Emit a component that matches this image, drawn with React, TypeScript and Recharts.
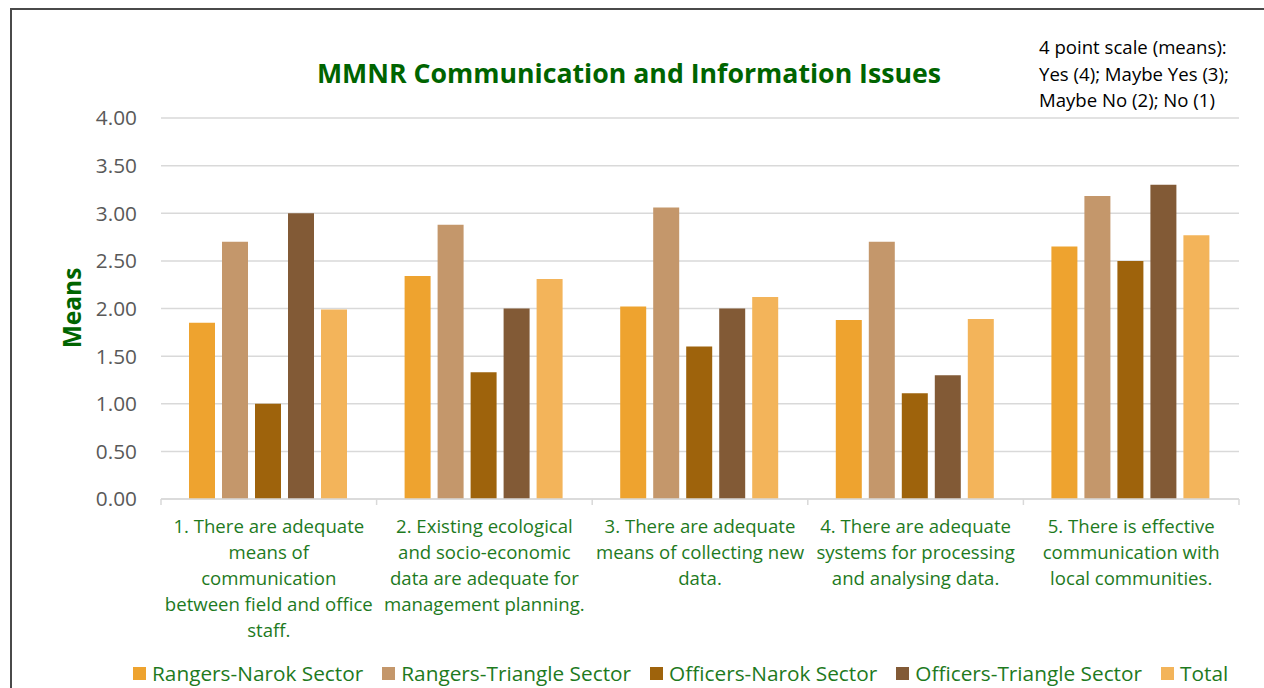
import { BarChart, Bar, XAxis, YAxis, CartesianGrid, Legend } from "recharts";

const categories = [
  "1. There are adequate\nmeans of\ncommunication\nbetween field and office\nstaff.",
  "2.  Existing ecological\nand socio-economic\ndata are adequate for\nmanagement planning.",
  "3. There are adequate\nmeans of collecting new\ndata.",
  "4.  There are adequate\nsystems for processing\nand analysing data.",
  "5. There is effective\ncommunication with\nlocal communities.",
];

const rangersNarok = [1.85, 2.34, 2.02, 1.88, 2.65];
const rangersTriangle = [2.7, 2.88, 3.06, 2.7, 3.18];
const officersNarok = [1.0, 1.33, 1.6, 1.11, 2.5];
const officersTriangle = [3.0, 2.0, 2.0, 1.3, 3.3];
const total = [1.99, 2.31, 2.12, 1.89, 2.77];

const yTicks = [0, 0.5, 1, 1.5, 2, 2.5, 3, 3.5, 4];

const series = [
  { key: "rn", name: "Rangers-Narok Sector", color: "#EEA32F", values: rangersNarok },
  { key: "rt", name: "Rangers-Triangle Sector", color: "#C4976B", values: rangersTriangle },
  { key: "on", name: "Officers-Narok Sector", color: "#9E630C", values: officersNarok },
  { key: "ot", name: "Officers-Triangle Sector", color: "#825A36", values: officersTriangle },
  { key: "tot", name: "Total", color: "#F3B45A", values: total },
];

const data = categories.map((name, i) => {
  const row: Record<string, string | number> = { name };
  series.forEach((s) => (row[s.key] = s.values[i]));
  return row;
});

const FONT = "'Open Sans', sans-serif";
const GREEN = "#1E7A1E";

function CategoryTick(props: any) {
  const { x, y, payload } = props;
  const half = payload.offset || 107.8;
  const lines = String(payload.value).split("\n");
  return (
    <g>
      <line x1={x - half} x2={x - half} y1={y - 24} y2={y - 18} stroke="#D9D9D9" strokeWidth={1.5} />
      {payload.index === categories.length - 1 && (
        <line x1={x + half} x2={x + half} y1={y - 24} y2={y - 18} stroke="#D9D9D9" strokeWidth={1.5} />
      )}
      <text x={x} y={y} textAnchor="middle" fill={GREEN} fontSize={18.6} fontFamily={FONT}>
        {lines.map((l, i) => (
          <tspan key={i} x={x} dy={i === 0 ? 10 : 26}>
            {l}
          </tspan>
        ))}
      </text>
    </g>
  );
}

function LegendContent() {
  return (
    <div
      style={{
        display: "flex",
        alignItems: "center",
        whiteSpace: "nowrap",
        fontFamily: FONT,
        fontSize: 20.8,
        color: GREEN,
      }}
    >
      {series.map((s) => (
        <div key={s.key} style={{ display: "flex", alignItems: "center", marginRight: 19, flexShrink: 0 }}>
          <span style={{ width: 13, height: 13, background: s.color, marginRight: 6, flexShrink: 0 }} />
          <span>{s.name}</span>
        </div>
      ))}
    </div>
  );
}

export default function App() {
  return (
    <div style={{ position: "absolute", left: 0, top: 0, width: 1264, height: 688, overflow: "hidden", background: "#fff" }}>
      <div
        style={{
          position: "absolute",
          left: 10,
          top: 8,
          width: 1300,
          height: 720,
          border: "2px solid #4a4a4a",
        }}
      />
      <div
        style={{
          position: "absolute",
          left: 0,
          width: 1258,
          top: 54,
          textAlign: "center",
          fontFamily: FONT,
          fontWeight: 700,
          fontSize: 26.7,
          color: "#006400",
        }}
      >
        MMNR Communication and Information Issues
      </div>
      <div
        style={{
          position: "absolute",
          left: 1039,
          top: 34,
          fontFamily: FONT,
          fontSize: 18.6,
          lineHeight: "26.5px",
          color: "#000",
        }}
      >
        4 point scale (means):
        <br />
        Yes (4); Maybe Yes (3);
        <br />
        Maybe No (2); No (1)
      </div>
      <div style={{ position: "absolute", left: 0, top: 0 }}>
        <BarChart
          width={1264}
          height={688}
          data={data}
          margin={{ top: 118, right: 25, bottom: 38, left: 0 }}
          barCategoryGap={28}
          barGap={7}
        >
          <CartesianGrid vertical={false} stroke="#D9D9D9" strokeWidth={1.5} />
          <XAxis
            dataKey="name"
            interval={0}
            height={151}
            tick={<CategoryTick />}
            tickLine={false}
            tickSize={6}
            tickMargin={18}
            axisLine={{ stroke: "#D9D9D9", strokeWidth: 1.5 }}
          />
          <YAxis
            width={161}
            domain={[0, 4]}
            ticks={yTicks}
            interval={0}
            tickFormatter={(v: number) => v.toFixed(2)}
            tick={{ fill: "#595959", fontSize: 20.8, fontFamily: FONT }}
            tickLine={false}
            axisLine={false}
            tickSize={6}
            tickMargin={18}
            label={{
              content: () => (
                <text
                  x={71}
                  y={308}
                  transform="rotate(-90 71 308)"
                  textAnchor="middle"
                  dominantBaseline="central"
                  fill="#006400"
                  fontWeight={700}
                  fontSize={24.5}
                  fontFamily={FONT}
                >
                  Means
                </text>
              ),
            }}
          />
          <Legend
            layout="horizontal"
            verticalAlign="middle"
            align="center"
            wrapperStyle={{ top: 659, left: 133, width: 1250 }}
            content={<LegendContent />}
          />
          {series.map((s) => (
            <Bar key={s.key} dataKey={s.key} name={s.name} fill={s.color} isAnimationActive={false} />
          ))}
        </BarChart>
      </div>
    </div>
  );
}
